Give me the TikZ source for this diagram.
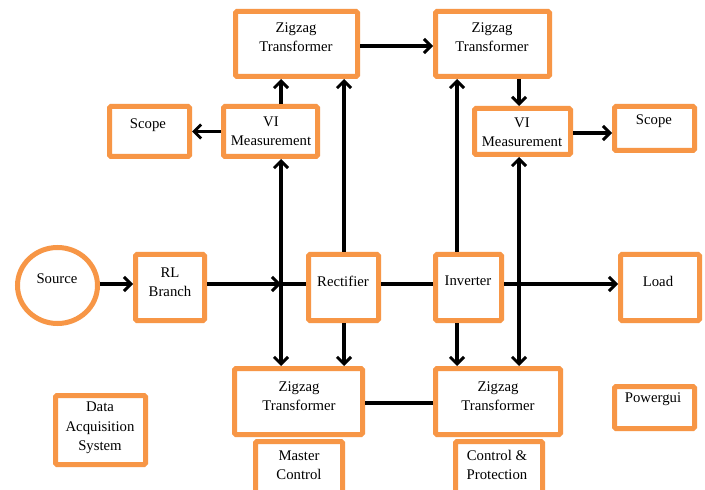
\documentclass[tikz,border=0pt]{standalone}
\usepackage{fontspec}
\setmainfont{Liberation Serif}
\usetikzlibrary{arrows.meta,shapes.geometric,calc}
\definecolor{bord}{HTML}{F79646}
\begin{document}
\begin{tikzpicture}[x=1bp,y=-1bp,
  box/.style={draw=bord, line width=5bp, fill=white, rounded corners=1.5bp, inner sep=0pt},
  oval/.style={ellipse, draw=bord, line width=5bp, fill=white, inner sep=0pt},
  txt/.style={font=\fontsize{14.8}{19.5}\selectfont, align=center, inner sep=0pt},
  tip/.tip={Straight Barb[length=7bp,width=14bp,line width=3bp]},
  arr/.style={line width=3.2bp, -tip},
  dbl/.style={line width=3.2bp, tip-tip},
  ln/.style={line width=3.2bp}]
\useasboundingbox (0,0) rectangle (705,490);
\fill[white] (0,0) rectangle (705,490);
% boxes
\node[box, minimum width=122bp, minimum height=65bp] (zt1) at (296.5,44) {};
\node[box, minimum width=114bp, minimum height=65bp] (zt2) at (492.5,44) {};
\node[box, minimum width=94bp, minimum height=50bp] (vi1) at (270.5,131.5) {};
\node[box, minimum width=80bp, minimum height=50bp] (sc1) at (149.5,131.5) {};
\node[box, minimum width=96bp, minimum height=46bp] (vi2) at (522.5,131.5) {};
\node[box, minimum width=80bp, minimum height=44bp] (sc2) at (654.5,128.5) {};
\node[oval, minimum width=80bp, minimum height=76bp] (src) at (57.5,285.5) {};
\node[box, minimum width=69bp, minimum height=66bp] (rl) at (170,287.5) {};
\node[box, minimum width=70bp, minimum height=66bp] (rec) at (343.5,287.5) {};
\node[box, minimum width=66bp, minimum height=66bp] (inv) at (468.5,287.5) {};
\node[box, minimum width=79bp, minimum height=66bp] (load) at (660,287.5) {};
\node[box, minimum width=128bp, minimum height=66bp] (zb1) at (298.5,401.5) {};
\node[box, minimum width=125bp, minimum height=66bp] (zb2) at (498,401.5) {};
\node[box, minimum width=90bp, minimum height=69bp] (daq) at (100.5,430) {};
\node[box, minimum width=87bp, minimum height=54bp] (mc) at (299,468.5) {};
\node[box, minimum width=87bp, minimum height=54bp] (cp) at (499,468.5) {};
\node[box, minimum width=80bp, minimum height=42bp] (pg) at (654.5,407.5) {};
% texts
\node[txt] (zt1t) at (296,37) {Zigzag\\Transformer};
\node[txt] (zt2t) at (492,37) {Zigzag\\Transformer};
\node[txt] (vi1t) at (271,131) {VI\\Measurement};
\node[txt] (vi2t) at (522,132) {VI\\Measurement};
\node[txt] (sc1t) at (148,125) {Scope};
\node[txt] (sc2t) at (654,121) {Scope};
\node[txt] (srct) at (57,279) {Source};
\node[txt] (rlt) at (170,282) {RL\\Branch};
\node[txt] (rect) at (343,281) {Rectifier};
\node[txt] (invt) at (468,281) {Inverter};
\node[txt] (loadt) at (658,281) {Load};
\node[txt] (zb1t) at (299,396) {Zigzag\\Transformer};
\node[txt] (zb2t) at (498,396) {Zigzag\\Transformer};
\node[txt] (pgt) at (653,399) {Powergui};
\node[txt] (daqt) at (100,428) {Data\\Acquisition\\System};
\node[txt] (mct) at (299,465) {Master\\Control};
\node[txt] (cpt) at (497,465) {Control \&\\Protection};
% helper coordinates
\coordinate (c1) at (281,284);
\coordinate (c2) at (344,0);
\coordinate (c3) at (457,0);
\coordinate (c4) at (519,0);
\coordinate (h1) at (0,46);
\coordinate (h2) at (0,133);
\coordinate (h3) at (0,403);
% connectors
\draw[arr] (src.east |- c1) -- (rl.west |- c1);
\draw[arr] (rl.east |- c1) -- (c1);
\draw[ln] (c1) -- (rec.west |- c1);
\draw[dbl] (vi1.south -| c1) -- (zb1.north -| c1);
\draw[arr] (vi1.north -| c1) -- (zt1.south -| c1);
\draw[arr] (vi1.west) -- (sc1.east);
\draw[arr] (rec.north -| c2) -- (zt1.south -| c2);
\draw[arr] (rec.south -| c2) -- (zb1.north -| c2);
\draw[arr] (zt1.east |- h1) -- (zt2.west |- h1);
\draw[ln] (rec.east |- c1) -- (inv.west |- c1);
\draw[arr] (inv.north -| c3) -- (zt2.south -| c3);
\draw[arr] (inv.south -| c3) -- (zb2.north -| c3);
\draw[arr] (zt2.south -| c4) -- (vi2.north -| c4);
\draw[arr] (vi2.east |- h2) -- (sc2.west |- h2);
\draw[dbl] (vi2.south -| c4) -- (zb2.north -| c4);
\draw[arr] (inv.east |- c1) -- (load.west |- c1);
\draw[ln] (zb1.east |- h3) -- (zb2.west |- h3);
\end{tikzpicture}
\end{document}
